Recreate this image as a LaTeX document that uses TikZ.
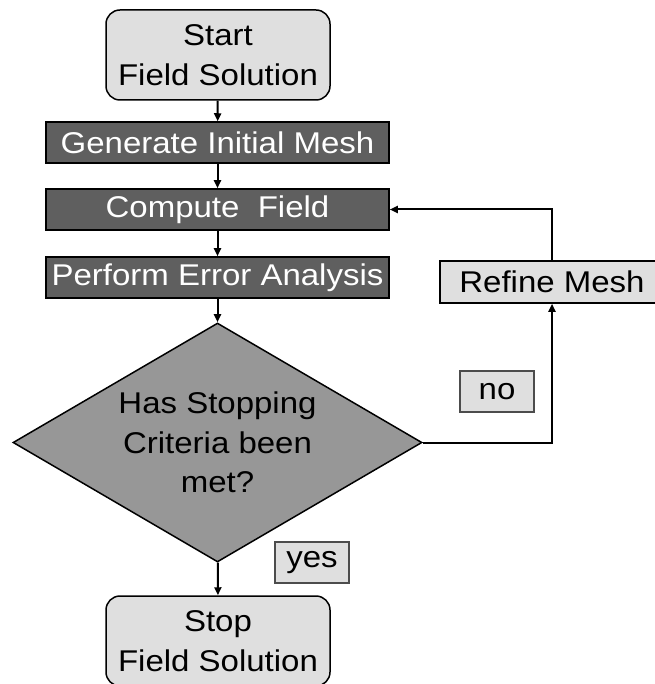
\documentclass[tikz,border=0pt]{standalone}
\usepackage{fontspec}
\setmainfont{Liberation Sans}[FakeStretch=1.1]
\usetikzlibrary{arrows.meta,positioning,shapes.geometric}

\definecolor{boxlight}{HTML}{DFDFDF}
\definecolor{boxdark}{HTML}{5F5F5F}
\definecolor{decisiongray}{HTML}{979797}

\begin{document}
\begin{tikzpicture}[
    x=1pt, y=-1pt,
    >={Triangle[length=8pt, width=7pt]},
    node font=\fontsize{30}{39.5}\selectfont,
    terminal box/.style={rectangle, rounded corners=14pt, draw=black, line width=1.5pt, fill=boxlight, minimum width=224pt, minimum height=90pt, inner sep=0pt, align=center},
    process box/.style={rectangle, draw=black, line width=1.5pt, fill=boxdark, text=white, minimum width=343pt, minimum height=41pt, inner sep=0pt},
    decision box/.style={diamond, aspect=1.7, draw=black, line width=1.5pt, fill=decisiongray, minimum width=409pt, minimum height=239pt, inner sep=0pt, align=center},
    refine box/.style={rectangle, draw=black, line width=1.5pt, fill=boxlight, minimum width=224pt, minimum height=42pt, inner sep=0pt},
    answer box/.style={rectangle, draw=black!70, line width=1.2pt, fill=boxlight, minimum width=74pt, minimum height=41pt, inner sep=0pt},
    flow/.style={->, line width=2pt},
]

\useasboundingbox (0,0) rectangle (654,684);

% === Main column ===
\node[terminal box] (start) at (218,55) {Start\\Field Solution};
\node[process box] (mesh) at (217.5,142.5) {Generate Initial Mesh};
\node[process box] (compute) at (217.5,209.5) {Compute\ \ Field};
\node[process box] (error) at (217.5,277.5) {Perform Error Analysis};
\node[decision box] (check) at (217.5,442.5) {Has Stopping\\Criteria been\\met?};
\node[terminal box] (stop) at (218,641) {Stop\\Field Solution};

% === Loop back ===
\node[refine box] (refine) at (552,282) {Refine Mesh};

% Answer labels
\node[answer box] (no) at (497,391.5) {no};
\node[answer box] (yes) at (312,562.5) {yes};

% === Connectors ===
\draw[flow] (start) -- (mesh);
\draw[flow] (mesh) -- (compute);
\draw[flow] (compute) -- (error);
\draw[flow] (error) -- (check);
\draw[flow] (check) -- (stop);
\draw[flow] (check.east) -| (refine.south);
\draw[flow] (refine.north) |- (compute.east);

\end{tikzpicture}
\end{document}
